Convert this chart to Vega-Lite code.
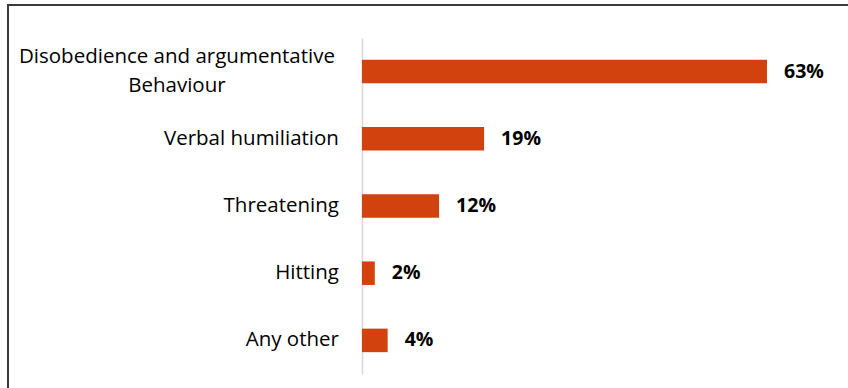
{
  "$schema": "https://vega.github.io/schema/vega-lite/v6.json",
  "width": 840,
  "height": 383,
  "autosize": "none",
  "padding": {"left": 8, "top": 5, "right": 0, "bottom": 0},
  "background": "white",
  "config": {
    "view": {"stroke": "#3a3a3a", "strokeWidth": 2, "strokeDash": [840, 1223, 383]},
    "font": "Open Sans"
  },
  "data": {
    "values": [
      {"cat": "Disobedience and argumentative\nBehaviour", "value": 63, "label": "63%", "multi": true},
      {"cat": "Verbal humiliation", "value": 19, "label": "19%", "multi": false},
      {"cat": "Threatening", "value": 12, "label": "12%", "multi": false},
      {"cat": "Hitting\u00a0", "value": 2, "label": "2%", "multi": false},
      {"cat": "Any other", "value": 4, "label": "4%", "multi": false}
    ]
  },
  "encoding": {
    "y": {
      "field": "cat",
      "type": "nominal",
      "sort": null,
      "scale": {"range": [33, 369], "paddingInner": 0.65, "paddingOuter": 0.325},
      "axis": {
        "orient": "left",
        "offset": -354,
        "labels": false,
        "ticks": false,
        "title": null,
        "grid": false,
        "domainColor": "#d9d9d9",
        "domainWidth": 1.5
      }
    }
  },
  "layer": [
    {
      "mark": {"type": "bar", "color": "#d2420f"},
      "encoding": {
        "x": {"field": "value", "type": "quantitative", "scale": {"domain": [-55.05, 75.6], "nice": false, "zero": false}, "axis": null},
        "x2": {"datum": 0}
      }
    },
    {
      "mark": {"type": "text", "align": "left", "baseline": "middle", "dx": 17, "fontSize": 19.5, "fontWeight": "bold", "color": "#000000"},
      "encoding": {
        "x": {"field": "value", "type": "quantitative"},
        "text": {"field": "label"}
      }
    },
    {
      "transform": [{"filter": "!datum.multi"}],
      "mark": {"type": "text", "align": "right", "baseline": "middle", "dx": -23, "fontSize": 20.5, "color": "#000000"},
      "encoding": {
        "x": {"datum": 0},
        "text": {"field": "cat"}
      }
    },
    {
      "transform": [{"filter": "datum.multi"}],
      "mark": {"type": "text", "align": "center", "baseline": "middle", "dx": -185, "dy": -15, "fontSize": 20.5, "lineHeight": 29, "lineBreak": "\n", "color": "#000000"},
      "encoding": {
        "x": {"datum": 0},
        "text": {"field": "cat"}
      }
    }
  ]
}
